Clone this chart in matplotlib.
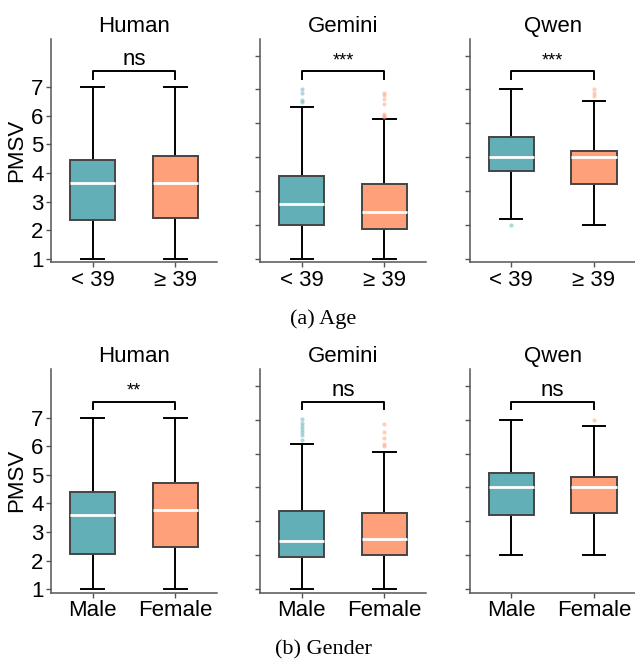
import matplotlib
matplotlib.use("Agg")
import matplotlib.pyplot as plt

plt.rcParams['font.family'] = ['Liberation Sans', 'DejaVu Sans']

panels = ["Human", "Gemini", "Qwen"]
age_groups = ["< 39", "≥ 39"]
gender_groups = ["Male", "Female"]

# box statistics, one [group1, group2] pair per panel
age_med = [[3.65, 3.65], [2.90, 2.62], [4.57, 4.57]]
age_q1 = [[2.35, 2.41], [2.19, 2.05], [4.07, 3.60]]
age_q3 = [[4.47, 4.59], [3.88, 3.60], [5.26, 4.77]]
age_lo = [[1.0, 1.0], [1.0, 1.0], [2.40, 2.20]]
age_hi = [[7.0, 7.0], [6.29, 5.88], [6.93, 6.52]]
age_fliers = [[[], []],
              [[6.48, 6.54, 6.79, 6.93], [5.95, 6.0, 6.07, 6.41, 6.57, 6.72, 6.78]],
              [[2.2], [6.7, 6.8, 6.93]]]
age_sig = ["ns", "***", "***"]

gender_med = [[3.58, 3.76], [2.69, 2.76], [4.57, 4.57]]
gender_q1 = [[2.23, 2.46], [2.12, 2.19], [3.59, 3.66]]
gender_q3 = [[4.41, 4.70], [3.72, 3.66], [5.08, 4.92]]
gender_lo = [[1.0, 1.0], [1.0, 1.0], [2.20, 2.20]]
gender_hi = [[7.0, 7.0], [6.09, 5.81], [6.93, 6.71]]
gender_fliers = [[[], []],
                 [[6.22, 6.4, 6.5, 6.6, 6.7, 6.8, 6.94], [5.99, 6.09, 6.30, 6.51, 6.78]],
                 [[], [6.93]]]
gender_sig = ["**", "ns", "ns"]

colors = ["#62AFB8", "#FEA07A"]
human_ticks = [1, 2, 3, 4, 5, 6, 7]
model_ticks = [1.0, 2.19, 3.37, 4.56, 5.74, 6.92, 8.1]


def draw_row(fig, bottom, groups, med, q1, q3, lo, hi, fliers, sig):
    lefts = [0.0808, 0.410, 0.740]
    for i, name in enumerate(panels):
        ax = fig.add_axes([lefts[i], bottom, 0.2605, 0.337])
        stats = []
        for j in range(2):
            stats.append(dict(med=med[i][j], q1=q1[i][j], q3=q3[i][j],
                              whislo=lo[i][j], whishi=hi[i][j], fliers=fliers[i][j]))
        bp = ax.bxp(stats, positions=[1, 2], widths=0.55, patch_artist=True,
                    capwidths=0.27, showfliers=True,
                    boxprops=dict(edgecolor="#444444", linewidth=1.4),
                    whiskerprops=dict(color="black", linewidth=1.4),
                    capprops=dict(color="black", linewidth=1.4),
                    medianprops=dict(color="white", linewidth=2))
        for j, patch in enumerate(bp['boxes']):
            patch.set_facecolor(colors[j])
            patch.set_zorder(3)
        for line in bp['medians']:
            line.set_zorder(4)
        for j, fl in enumerate(bp['fliers']):
            fl.set(marker='o', markersize=3, markerfacecolor=colors[j],
                   markeredgecolor='none', alpha=0.5)

        # significance bracket
        yb = 7.55
        ax.plot([1, 1, 2, 2], [yb - 0.25, yb, yb, yb - 0.25], color="black", lw=1.4)
        fs = 16 if sig[i] == "ns" else 13
        ax.text(1.5, yb + 0.22, sig[i], ha='center', va='baseline', fontsize=fs)

        ax.set_xlim(0.5, 2.5)
        ax.set_ylim(0.88, 8.7)
        ax.set_xticks([1, 2])
        ax.set_xticklabels(groups, fontsize=16)
        if i == 0:
            ax.set_yticks(human_ticks)
            ax.set_yticklabels([str(t) for t in human_ticks], fontsize=16)
            ax.set_ylabel("PMSV", fontsize=16, labelpad=3)
        else:
            ax.set_yticks(model_ticks)
            ax.set_yticklabels([])
        ax.set_title(name, fontsize=16, pad=5)
        for side in ["top", "right"]:
            ax.spines[side].set_visible(False)
        for side in ["left", "bottom"]:
            ax.spines[side].set_color("#555555")
            ax.spines[side].set_linewidth(1.1)
        ax.tick_params(colors="#555555", labelcolor="black", length=3.5, width=1, pad=2)


fig = plt.figure(figsize=(6.35, 6.64), dpi=100)
draw_row(fig, 0.605, age_groups, age_med, age_q1, age_q3, age_lo, age_hi, age_fliers, age_sig)
draw_row(fig, 0.1074, gender_groups, gender_med, gender_q1, gender_q3, gender_lo, gender_hi,
         gender_fliers, gender_sig)

fig.text(0.509, 0.520, "(a) Age", ha='center', va='center', fontsize=16, family='Liberation Serif')
fig.text(0.509, 0.021, "(b) Gender", ha='center', va='center', fontsize=16, family='Liberation Serif')

fig.savefig("out.png", dpi=100)
